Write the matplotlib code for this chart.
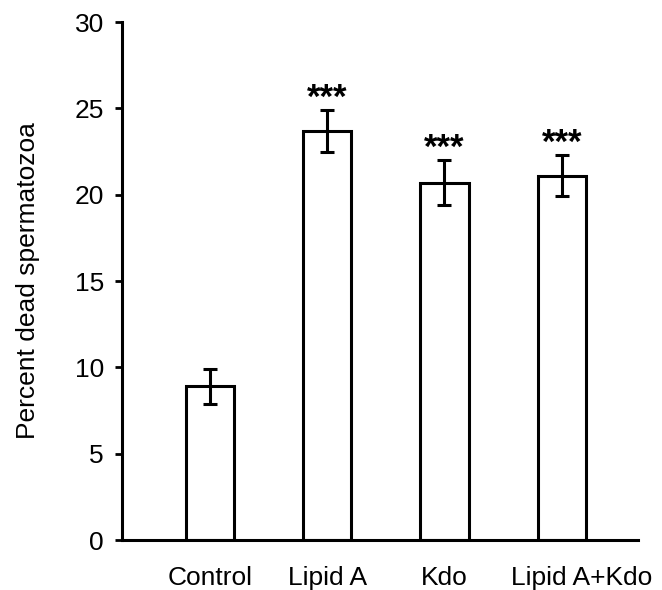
import numpy as np
import matplotlib
matplotlib.use("Agg")
import matplotlib.pyplot as plt
import matplotlib.transforms as mtransforms

plt.rcParams["font.family"] = ["Liberation Sans", "DejaVu Sans"]

groups = ["Control", "Lipid A", "Kdo", "Lipid A+Kdo"]
means = [8.9, 23.7, 20.7, 21.1]
errors = [1.0, 1.2, 1.3, 1.2]
marks = ["", "***", "***", "***"]

fig = plt.figure(figsize=(6.62, 5.90), dpi=100)
ax = fig.add_axes([0.1843, 0.0847, 0.7794, 0.878])

x = np.arange(len(groups))
ax.bar(x, means, width=0.41, color="white", edgecolor="black", linewidth=2.2, zorder=2)
ax.errorbar(x, means, yerr=errors, fmt="none", ecolor="black", elinewidth=2.2,
            capsize=5, capthick=2.2, zorder=3)

for xi, m, e, s in zip(x, means, errors, marks):
    if s:
        ax.text(xi, m + e + 0.15, s, ha="center", va="baseline", fontsize=25, fontweight="bold")

ax.set_xlim(-0.75, 3.65)
ax.set_ylim(0, 30)
ax.set_yticks(range(0, 31, 5))
ax.set_xticks(x)
ax.set_xticklabels(groups)

for side in ["top", "right"]:
    ax.spines[side].set_visible(False)
for side in ["left", "bottom"]:
    ax.spines[side].set_linewidth(2.2)

ax.tick_params(axis="y", direction="out", length=5, width=2, labelsize=19, pad=8)
ax.tick_params(axis="x", length=0, labelsize=19, pad=19)
ax.set_ylabel("Percent dead spermatozoa", fontsize=19, labelpad=25)

# last label sits a bit to the right in the original
lab = ax.get_xticklabels()[-1]
lab.set_transform(lab.get_transform() + mtransforms.ScaledTranslation(14 / 72, 0, fig.dpi_scale_trans))

fig.savefig("out.png", dpi=100)
